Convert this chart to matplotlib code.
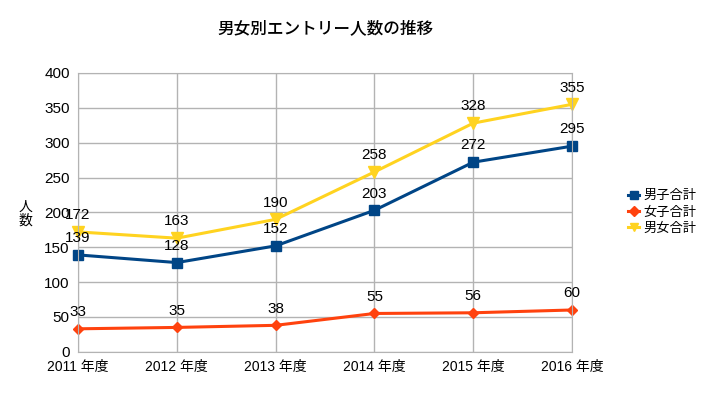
import matplotlib
matplotlib.use("Agg")
import matplotlib.pyplot as plt

plt.rcParams['font.family'] = ['Liberation Sans', 'Noto Sans CJK JP', 'DejaVu Sans']

years = ["2011 年度", "2012 年度", "2013 年度", "2014 年度", "2015 年度", "2016 年度"]
male = [139, 128, 152, 203, 272, 295]
female = [33, 35, 38, 55, 56, 60]
total = [172, 163, 190, 258, 328, 355]

fig = plt.figure(figsize=(7.16, 4.03), dpi=100)
ax = fig.add_axes([0.109, 0.127, 0.690, 0.692])

x = list(range(len(years)))
ax.plot(x, male, color="#004586", lw=2.2, marker="s", ms=7, label="男子合計", clip_on=False)
ax.plot(x, female, color="#ff420e", lw=2.2, marker="D", ms=5, label="女子合計", clip_on=False)
ax.plot(x, total, color="#ffd320", lw=2.2, marker="v", ms=8, label="男女合計", clip_on=False)

for series in (male, female, total):
    for i, v in enumerate(series):
        ax.annotate(str(v), (i, v), xytext=(0, 7), textcoords="offset points",
                    ha="center", va="bottom", fontsize=11, color="#000000")

ax.set_xlim(0, len(years) - 1)
ax.set_ylim(0, 400)
ax.set_yticks(range(0, 401, 50))
ax.set_xticks(x)
ax.set_xticklabels(years, fontsize=10)
ax.tick_params(axis="y", labelsize=11, length=0, pad=6)
ax.tick_params(axis="x", length=0, pad=6)
ax.grid(True, color="#b3b3b3", lw=1)
ax.set_axisbelow(True)
for s in ax.spines.values():
    s.set_color("#b3b3b3")

fig.text(0.035, 0.47, "人\n数", ha="center", va="center", fontsize=10, linespacing=1.0)
fig.text(0.455, 0.93, "男女別エントリー人数の推移", ha="center", va="center",
         fontsize=12, fontweight="medium")

leg = ax.legend(loc="center left", bbox_to_anchor=(1.09, 0.5), frameon=False,
                fontsize=9.5, handlelength=0.8, handletextpad=0.3, labelspacing=0.3)
for h in leg.legend_handles:
    h.set_markersize(5.5)

fig.savefig("out.png")
